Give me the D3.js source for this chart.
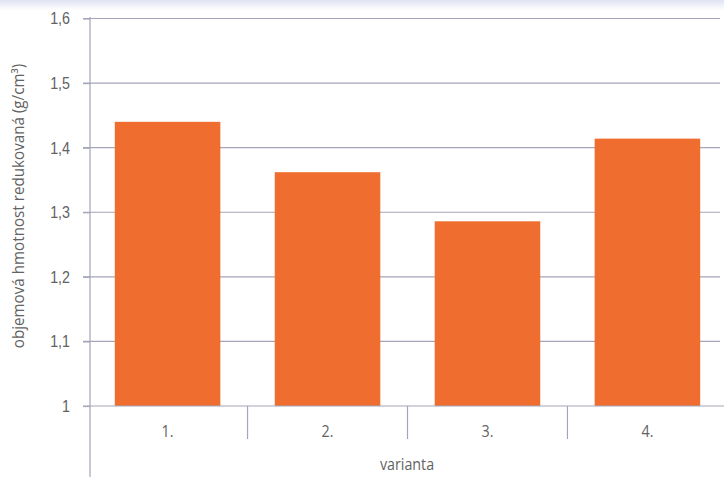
<!DOCTYPE html>
<html><head><meta charset="utf-8">
<script src="https://cdn.jsdelivr.net/npm/d3@7"></script>
<style>body{margin:0;background:#fff}svg{display:block}</style>
</head><body>
<script>
const categories = ["1.", "2.", "3.", "4."];
const values = [1.44, 1.362, 1.286, 1.414];
const yTicks = [1, 1.1, 1.2, 1.3, 1.4, 1.5, 1.6];
const yLabel = "objemová hmotnost redukovaná (g/cm³)";
const xLabel = "varianta";

const W = 724, H = 486;
const m = {left: 90};
const svg = d3.select("body").append("svg").attr("width", W).attr("height", H)
  .style("font-family", "'Open Sans', 'Liberation Sans', sans-serif");

const grad = svg.append("defs").append("linearGradient").attr("id","top").attr("x1",0).attr("y1",0).attr("x2",0).attr("y2",1);
grad.append("stop").attr("offset",0).attr("stop-color","#dfe3f3");
grad.append("stop").attr("offset",1).attr("stop-color","#ffffff");
svg.append("rect").attr("x",0).attr("y",0).attr("width",W).attr("height",10).attr("fill","url(#top)");

const x = d3.scaleBand().domain(categories).range([m.left, W + 1]).paddingInner(0.34).paddingOuter(0.155);
const y = d3.scaleLinear().domain([1, 1.6]).range([406, 18.5]);
const fmt = d => d3.format("")(d).replace(".", ",");
const txt = "#626262", axisCol = "#a3a5b8";

svg.append("g").selectAll("line").data(yTicks.slice(1)).join("line")
  .attr("x1", m.left - 7).attr("x2", W - 4)
  .attr("y1", d => y(d)).attr("y2", d => y(d))
  .attr("stroke", axisCol).attr("stroke-width", 1.2);

svg.append("g").selectAll("rect").data(values).join("rect")
  .attr("x", (d, i) => x(categories[i])).attr("width", x.bandwidth())
  .attr("y", d => y(d)).attr("height", d => y(1) - y(d))
  .attr("fill", "#ef6e2f");

const ya = svg.append("g").attr("transform", `translate(${m.left},0)`)
  .call(d3.axisLeft(y).tickValues(yTicks).tickFormat(fmt).tickSize(7).tickPadding(10));
ya.select(".domain").remove();
ya.selectAll(".tick line").attr("stroke", axisCol).attr("stroke-width", 1.2);
ya.selectAll(".tick text").attr("fill", txt).style("font-size", "17px")
  .attr("x", null).attr("transform", "translate(-20,0) scale(0.84,1)");
svg.append("line").attr("x1", m.left).attr("x2", m.left).attr("y1", 17).attr("y2", 477)
  .attr("stroke", axisCol).attr("stroke-width", 1.2);

svg.append("line").attr("x1", m.left - 7).attr("x2", W).attr("y1", y(1)).attr("y2", y(1))
  .attr("stroke", axisCol).attr("stroke-width", 1.2);
const gap = (x.step() - x.bandwidth()) / 2;
svg.append("g").selectAll("line").data(categories.slice(1)).join("line")
  .attr("x1", c => x(c) - gap).attr("x2", c => x(c) - gap)
  .attr("y1", y(1)).attr("y2", 439)
  .attr("stroke", axisCol).attr("stroke-width", 1.2);
svg.append("g").selectAll("text").data(categories).join("text")
  .attr("transform", c => `translate(${x(c) + x.bandwidth() / 2},437) scale(0.84,1)`)
  .attr("text-anchor", "middle").attr("fill", txt).style("font-size", "17px")
  .text(d => d);

svg.append("text").attr("transform", "translate(407,470) scale(0.84,1)").attr("text-anchor", "middle")
  .attr("fill", txt).style("font-size", "17px").text(xLabel);
svg.append("text").attr("transform", "translate(24,206) rotate(-90) scale(0.95,1)")
  .attr("text-anchor", "middle").attr("fill", txt).style("font-size", "16px").text(yLabel);
</script>
</body></html>
